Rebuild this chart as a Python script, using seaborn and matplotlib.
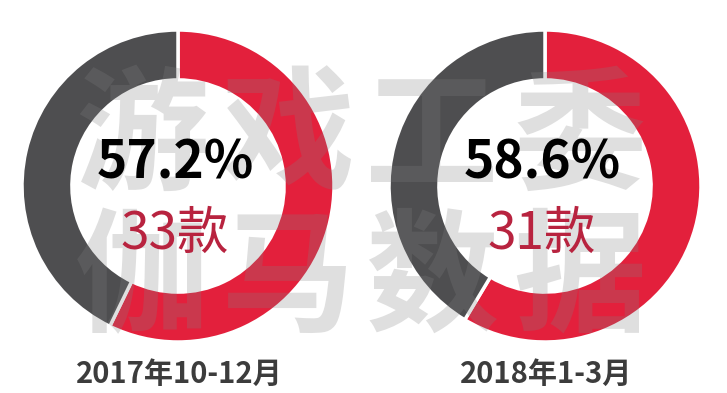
import matplotlib
matplotlib.use("Agg")
import matplotlib.pyplot as plt
import seaborn as sns

# data
periods = ["2017年10-12月", "2018年1-3月"]
share_pct = [57.2, 58.6]
game_counts = [33, 31]
watermark_top = ["游", "戏", "工", "委"]
watermark_bottom = ["伽", "马", "数", "据"]

sns.set_theme(style="white")
plt.rcParams['font.family'] = ['Noto Sans CJK SC', 'DejaVu Sans']

red = "#E3203C"
grey = "#4E4E50"
colors = [red, grey]

W, H = 727, 393
fig = plt.figure(figsize=(W / 100, H / 100), dpi=100)
fig.patch.set_facecolor("white")

centers = [(178, 186), (545, 186)]
R = 156

for i, (cx, cy) in enumerate(centers):
    ax = fig.add_axes([(cx - R) / W, (H - cy - R) / H, 2 * R / W, 2 * R / H])
    ax.pie([share_pct[i], 100 - share_pct[i]], colors=colors, startangle=90,
           counterclock=False, radius=1,
           wedgeprops=dict(width=0.32, edgecolor="white", linewidth=2.5))
    ax.set_xlim(-1, 1)
    ax.set_ylim(-1, 1)
    ax.set_aspect("equal")
    ax.axis("off")

# watermark overlay + text layer
top = fig.add_axes([0, 0, 1, 1])
top.set_xlim(0, W)
top.set_ylim(H, 0)
top.axis("off")
top.patch.set_alpha(0)

wm_x = [142, 288, 432, 580]
for j in range(4):
    top.text(wm_x[j], 140, watermark_top[j], fontsize=96, fontweight="bold",
             color="#808080", alpha=0.25, ha="center", va="center")
    top.text(wm_x[j], 282, watermark_bottom[j], fontsize=96, fontweight="bold",
             color="#808080", alpha=0.25, ha="center", va="center")

for i, (cx, cy) in enumerate(centers):
    top.text(cx - 3, 163, f"{share_pct[i]}%", fontsize=37, fontweight="bold",
             color="black", ha="center", va="center")
    top.text(cx - 3, 234, f"{game_counts[i]}款", fontsize=37,
             color="#B8233F", ha="center", va="center")
    top.text(cx + 1, 374, periods[i], fontsize=21, fontweight="bold",
             color="#3C3C3C", ha="center", va="center")

fig.savefig("out.png", dpi=100, facecolor="white")
